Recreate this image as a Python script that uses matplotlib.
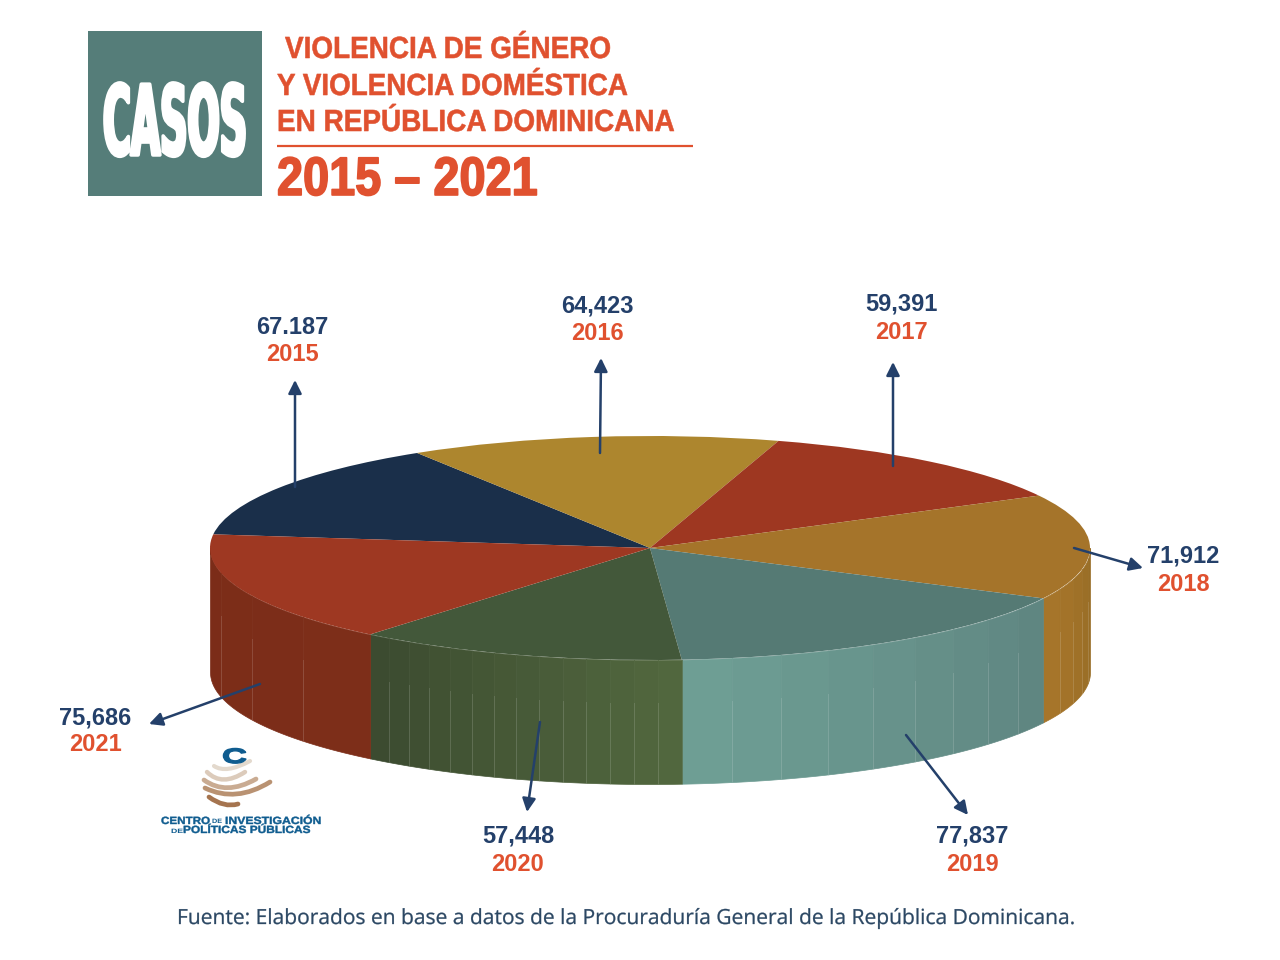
"""
Casos de violencia de genero, pastel con perspectiva.
"""

import numpy as np
import matplotlib
matplotlib.use("Agg")
import matplotlib.pyplot as plt
from matplotlib.colors import to_rgb
from matplotlib.patches import PathPatch, Rectangle
from matplotlib.path import Path
from matplotlib.patheffects import AbstractPathEffect
from matplotlib.transforms import Affine2D

years = ["2015", "2016", "2017", "2018", "2019", "2020", "2021"]
cases = [67187, 64423, 59391, 71912, 77837, 57448, 75686]
case_labels = ["67.187", "64,423", "59,391", "71,912", "77,837", "57,448", "75,686"]

top_colors = ["#1a2f4a", "#ad862e", "#9e3721", "#a5742a", "#557a74", "#43583a", "#9e3822"]
wall_left = ["#7b2c18", "#7b2c18", "#7b2c18", "#a8762a", "#6f9f95", "#3b4a2f", "#7b2c18"]
wall_right = ["#7b2c18", "#7b2c18", "#7b2c18", "#966c26", "#5e8480", "#52683f", "#7d2e19"]
wall_strips = [1, 1, 1, 5, 9, 14, 4]

# pixel positions of the labels and arrows
label_x = [292, 597, 901, 1183, 972, 518, 95]
label_y = [334, 313, 312, 564, 844, 844, 724]
arrow_from = [(295, 487), (600, 453), (893, 466), (1074, 548), (906, 735), (540, 722), (260, 684)]
arrow_to = [(295, 380), (601, 358), (893, 362), (1143, 568), (968, 815), (527, 812), (149, 724)]

NAVY = "#24406a"
ORANGE = "#e0512f"
TEAL = "#557d79"
LOGO_BLUE = "#0f5c8f"

CX, CY = 650, 548
RX, RY = 440, 112
DEPTH = 124 / RY


class Squeeze(AbstractPathEffect):
    """Scale a text about a pixel anchor, with optional stroke."""

    def __init__(self, sx, sy, x0, y0, stroke=0):
        super().__init__()
        self.sx = sx
        self.sy = sy
        self.x0 = x0
        self.y0 = y0
        self.stroke = stroke

    def draw_path(self, renderer, gc, tpath, affine, rgbFace=None):
        squeeze = (Affine2D().translate(-self.x0, -self.y0)
                   .scale(self.sx, self.sy).translate(self.x0, self.y0))
        gc0 = renderer.new_gc()
        gc0.copy_properties(gc)
        if self.stroke:
            gc0.set_linewidth(self.stroke)
            gc0.set_foreground(rgbFace)
        renderer.draw_path(gc0, tpath, affine + squeeze, rgbFace)
        gc0.restore()


def fit_text(ax, x0, x1, y, text, size, color, weight="bold", family="Liberation Sans",
             stroke=0, sy=1):
    t = ax.text(x0, y, text, fontsize=size, color=color, weight=weight,
                family=family, ha="left", va="baseline")
    box = t.get_window_extent(fig.canvas.get_renderer())
    sx = (x1 - x0) / box.width
    t.set_x(x0 - (box.x0 - x0))
    t.set_path_effects([Squeeze(sx, sy, x0, 960 - y, stroke)])
    return t


fig = plt.figure(figsize=(12.8, 9.6), dpi=100, facecolor="white")

# pie axes fill the figure, one data unit is the ellipse radius
ax_pie = fig.add_axes([0, 0, 1, 1])
wedges, _ = ax_pie.pie(
    cases,
    colors=top_colors,
    startangle=173,
    counterclock=False,
    radius=1,
    wedgeprops={"linewidth": 0},
)
ax_pie.set_aspect("auto")
ax_pie.set_xlim((0 - CX) / RX, (1280 - CX) / RX)
ax_pie.set_ylim((CY - 960) / RY, CY / RY)
ax_pie.set_zorder(1)

# visible outer wall, slice by slice
for i, w in enumerate(wedges):
    a1 = w.theta1 % 360
    a2 = a1 + (w.theta2 - w.theta1)
    start = max(a1, 180)
    stop = min(a2, 360)
    if stop <= start:
        continue
    edges = np.linspace(start, stop, wall_strips[i] + 1)
    c0 = np.array(to_rgb(wall_left[i]))
    c1 = np.array(to_rgb(wall_right[i]))
    for k in range(wall_strips[i]):
        t = np.radians(np.linspace(edges[k], edges[k + 1], 12))
        mix = (k + 0.5) / wall_strips[i]
        col = c0 + (c1 - c0) * mix
        ax_pie.fill_between(np.cos(t), np.sin(t) - DEPTH, np.sin(t),
                            color=col, linewidth=0.5, zorder=0.5)
        if k > 0:
            xk = np.cos(t[0])
            yk = np.sin(t[0])
            ax_pie.plot([xk, xk], [yk - DEPTH, yk - DEPTH * 0.35],
                        color="white", alpha=0.13, linewidth=0.7, zorder=0.6)

# pixel axes on top for header, labels and arrows
ax = fig.add_axes([0, 0, 1, 1], facecolor="none")
ax.set_xlim(0, 1280)
ax.set_ylim(960, 0)
ax.axis("off")
ax.set_zorder(2)

ax.add_patch(Rectangle((88, 31), 174, 165, facecolor=TEAL, edgecolor="none"))
fit_text(ax, 103, 247, 155, "CASOS", 35, "white", family="Liberation Sans Narrow",
         stroke=2.5, sy=2.0)
fit_text(ax, 285, 610, 58, "VIOLENCIA DE GÉNERO", 22, ORANGE, stroke=0.4)
fit_text(ax, 277, 627, 95, "Y VIOLENCIA DOMÉSTICA", 22, ORANGE, stroke=0.4)
fit_text(ax, 277, 673, 131, "EN REPÚBLICA DOMINICANA", 22, ORANGE, stroke=0.4)
ax.plot([277, 693], [146, 146], color=ORANGE, linewidth=1.6, solid_capstyle="butt")
fit_text(ax, 277, 537, 195, "2015 – 2021", 39, ORANGE, stroke=1.2)

for i in range(len(years)):
    ax.annotate(
        "",
        xy=arrow_to[i],
        xytext=arrow_from[i],
        arrowprops=dict(
            arrowstyle="-|>,head_length=0.8,head_width=0.4",
            color=NAVY,
            linewidth=1.8,
            shrinkA=0,
            shrinkB=0,
        ),
    )
    ax.text(label_x[i], label_y[i] - (1 if i in (3, 4, 5, 1, 2) else 0), case_labels[i],
            fontsize=17, color=NAVY, weight="bold", family="Liberation Sans",
            ha="center", va="baseline")
    ax.text(label_x[i], label_y[i] + 27, years[i], fontsize=17, color=ORANGE,
            weight="bold", family="Liberation Sans", ha="center", va="baseline")

# logo
logo_bands = [
    ((214, 766), (226, 774), (250, 761), "#e3d9cd", 3.0),
    ((207, 772), (222, 787), (245, 772), "#dccbbb", 3.2),
    ((204, 780), (226, 796), (256, 779), "#c9ab92", 3.4),
    ((205, 788), (236, 803), (270, 782), "#b99272", 3.4),
    ((209, 797), (224, 808), (238, 804), "#a5744f", 3.4),
]
for p0, ctrl, p1, col, lw in logo_bands:
    band = Path([p0, ctrl, p1], [Path.MOVETO, Path.CURVE3, Path.CURVE3])
    ax.add_patch(PathPatch(band, facecolor="none", edgecolor=col, linewidth=lw, capstyle="round"))
fit_text(ax, 222, 247, 763, "C", 15, LOGO_BLUE, stroke=1)
fit_text(ax, 161, 210, 824, "CENTRO", 7.5, LOGO_BLUE, stroke=0.3)
fit_text(ax, 212, 222, 823, "DE", 4.5, LOGO_BLUE)
fit_text(ax, 225, 321, 824, "INVESTIGACIÓN", 7.5, LOGO_BLUE, stroke=0.3)
fit_text(ax, 171, 183, 833, "DE", 4.5, LOGO_BLUE)
fit_text(ax, 183, 310, 833, "POLÍTICAS PÚBLICAS", 7.5, LOGO_BLUE, stroke=0.3)

fit_text(ax, 177, 1075, 924,
         "Fuente: Elaborados en base a datos de la Procuraduría General de la República Dominicana.",
         15, "#2b4763", weight="normal", family="Open Sans", stroke=0.2)

fig.savefig("out.png", dpi=100)
plt.close(fig)
